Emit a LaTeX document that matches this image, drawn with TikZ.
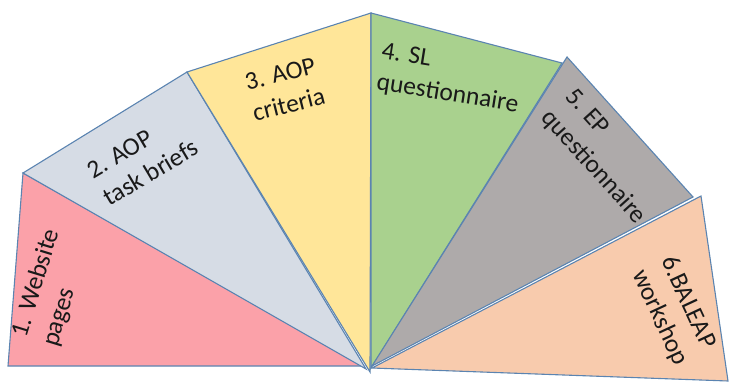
\documentclass[tikz,border=0pt]{standalone}
\usepackage{fontspec}
\setmainfont{Carlito}
\definecolor{edgeblue}{HTML}{5B84B1}
\definecolor{fanpink}{HTML}{FBA1A9}
\definecolor{fanblue}{HTML}{D6DCE5}
\definecolor{fanyellow}{HTML}{FFE699}
\definecolor{fangreen}{HTML}{A9D18E}
\definecolor{fangrey}{HTML}{AEAAAA}
\definecolor{fanpeach}{HTML}{F8CBAD}
\tikzset{
  blade/.style={draw=edgeblue, line width=1.1pt, line join=miter},
  bladetext/.style={align=left, inner sep=0pt, text=black!90,
    font=\fontsize{25.5}{32}\selectfont}
}
\begin{document}
\begin{tikzpicture}[x=1pt, y=-1pt]
\useasboundingbox (0,0) rectangle (730,385);
% fan blades, all meeting near the bottom centre
\draw[blade, fill=fanpink]   (8,366) -- (23,173) -- (363,366) -- cycle;
\draw[blade, fill=fanblue]   (23,173) -- (187,72) -- (366,369) -- cycle;
\draw[blade, fill=fanyellow] (187,72) -- (371,13) -- (370,372) -- cycle;
\draw[blade, fill=fangreen]  (371,13) -- (562,63) -- (371,368) -- cycle;
\draw[blade, fill=fangrey]   (567,57) -- (693,197) -- (372,366) -- cycle;
\draw[blade, fill=fanpeach]  (701,196) -- (728,381) -- (372,368) -- cycle;
% labels
\node[bladetext, rotate=73]   (l1) at (51.7,288) {1. Website\\pages};
\node[bladetext, rotate=30.7] (l2) at (142.7,159) {2. AOP\\task briefs};
\node[bladetext, rotate=14]   (l3) at (285,89) {3. AOP\\criteria};
\node[bladetext, rotate=-9]   (l4) at (450,79) {4. SL\\questionnaire};
\node[bladetext, rotate=-48]  (l5) at (605,157) {5. EP\\questionnaire};
\node[bladetext, rotate=-65]  (l6) at (674,311) {6.BALEAP\\workshop};
\end{tikzpicture}
\end{document}
